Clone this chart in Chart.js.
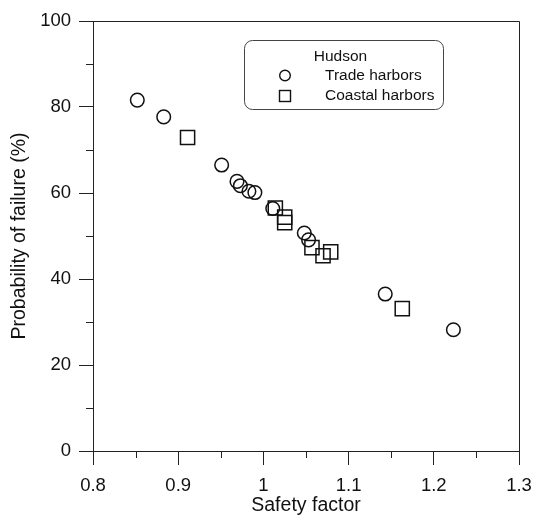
<!DOCTYPE html>
<html>
<head>
<meta charset="utf-8">
<script src="https://cdn.jsdelivr.net/npm/chart.js@4"></script>
<style>
  html, body { margin: 0; padding: 0; background: #fff; }
  #wrap { width: 533px; height: 516px; }
</style>
</head>
<body>
<div id="wrap"><canvas id="c" width="533" height="516"></canvas></div>
<script>
// ---- data ----
const tradeX = [0.852, 0.883, 0.951, 0.969, 0.973, 0.983, 0.990, 1.011, 1.048, 1.053, 1.143, 1.223];
const tradeY = [81.6, 77.7, 66.5, 62.7, 61.7, 60.4, 60.1, 56.4, 50.7, 49.1, 36.5, 28.2];
const coastalX = [0.911, 1.014, 1.025, 1.025, 1.057, 1.070, 1.079, 1.163];
const coastalY = [72.9, 56.5, 54.4, 53.1, 47.3, 45.4, 46.3, 33.1];
const xTicks = [0.8, 0.9, 1.0, 1.1, 1.2, 1.3];
const xMinorTicks = [0.85, 0.95, 1.05, 1.15, 1.25];
const yTicks = [0, 20, 40, 60, 80, 100];
const yMinorTicks = [10, 30, 50, 70, 90];
const legendTitle = 'Hudson';
const seriesNames = ['Trade harbors', 'Coastal harbors'];
const xTitle = 'Safety factor';
const yTitle = 'Probability of failure (%)';

const FONT = "'Liberation Sans', Arial, Helvetica, sans-serif";
const INK = '#111';
const AXIS = '#222';

const toPts = (xs, ys) => xs.map((x, i) => ({ x: x, y: ys[i] }));

const framePlugin = {
  id: 'frame',
  afterDraw(chart) {
    const { ctx, chartArea: a, scales } = chart;
    ctx.save();
    ctx.strokeStyle = AXIS;
    ctx.lineWidth = 1;
    // top and right frame lines
    ctx.beginPath();
    ctx.moveTo(Math.round(a.left) + 0.5, Math.round(a.top) + 0.5);
    ctx.lineTo(Math.round(a.right) + 0.5, Math.round(a.top) + 0.5);
    ctx.lineTo(Math.round(a.right) + 0.5, Math.round(a.bottom) + 0.5);
    ctx.stroke();
    // minor ticks
    ctx.beginPath();
    xMinorTicks.forEach(v => {
      const px = Math.round(scales.x.getPixelForValue(v)) + 0.5;
      ctx.moveTo(px, Math.round(a.bottom));
      ctx.lineTo(px, Math.round(a.bottom) + 7);
    });
    yMinorTicks.forEach(v => {
      const py = Math.round(scales.y.getPixelForValue(v)) + 0.5;
      ctx.moveTo(Math.round(a.left), py);
      ctx.lineTo(Math.round(a.left) - 7, py);
    });
    ctx.stroke();

    // legend box
    const bx = 244.5, by = 40.5, bw = 199, bh = 69, r = 8;
    ctx.beginPath();
    ctx.moveTo(bx + r, by);
    ctx.lineTo(bx + bw - r, by);
    ctx.arcTo(bx + bw, by, bx + bw, by + r, r);
    ctx.lineTo(bx + bw, by + bh - r);
    ctx.arcTo(bx + bw, by + bh, bx + bw - r, by + bh, r);
    ctx.lineTo(bx + r, by + bh);
    ctx.arcTo(bx, by + bh, bx, by + bh - r, r);
    ctx.lineTo(bx, by + r);
    ctx.arcTo(bx, by, bx + r, by, r);
    ctx.closePath();
    ctx.fillStyle = '#fff';
    ctx.fill();
    ctx.strokeStyle = '#444';
    ctx.stroke();

    ctx.fillStyle = INK;
    ctx.font = '15.5px ' + FONT;
    ctx.textBaseline = 'middle';
    ctx.textAlign = 'center';
    ctx.fillText(legendTitle, 340.5, 57);
    ctx.textAlign = 'left';
    ctx.fillText(seriesNames[0], 325, 75.5);
    ctx.fillText(seriesNames[1], 325, 96);

    ctx.strokeStyle = INK;
    ctx.lineWidth = 1.4;
    ctx.beginPath();
    ctx.arc(285, 75.5, 5.3, 0, Math.PI * 2);
    ctx.stroke();
    ctx.strokeRect(279.5, 90.5, 11, 11);
    ctx.restore();
  }
};

new Chart(document.getElementById('c'), {
  type: 'scatter',
  data: {
    datasets: [
      {
        label: seriesNames[0],
        data: toPts(tradeX, tradeY),
        pointStyle: 'circle',
        pointRadius: 6.8,
        pointHoverRadius: 6.8,
        pointBorderWidth: 1.5,
        pointBorderColor: INK,
        pointBackgroundColor: 'rgba(0,0,0,0)'
      },
      {
        label: seriesNames[1],
        data: toPts(coastalX, coastalY),
        pointStyle: 'rect',
        pointRadius: 10,
        pointHoverRadius: 10,
        pointBorderWidth: 1.5,
        pointBorderColor: INK,
        pointBackgroundColor: 'rgba(0,0,0,0)'
      }
    ]
  },
  options: {
    responsive: false,
    animation: false,
    devicePixelRatio: 1,
    layout: { autoPadding: false, padding: { top: 21, right: 14, left: 0, bottom: 0 } },
    plugins: { legend: { display: false }, tooltip: { enabled: false } },
    scales: {
      x: {
        type: 'linear',
        min: 0.8, max: 1.3,
        afterBuildTicks: s => { s.ticks = xTicks.map(v => ({ value: v })); },
        afterFit: s => { s.height = 65; s.paddingLeft = 0; s.paddingRight = 0; },
        ticks: {
          color: INK,
          font: { family: FONT, size: 18.5 },
          padding: 10,
          maxRotation: 0,
          callback: v => String(+Number(v).toFixed(2))
        },
        grid: { drawOnChartArea: false, drawTicks: true, tickLength: 14, color: AXIS, lineWidth: 1 },
        border: { display: true, color: AXIS, width: 1 },
        title: {
          display: true, text: xTitle, color: INK,
          font: { family: FONT, size: 19.5, lineHeight: 1.05 },
          padding: { top: 0, bottom: 0 }
        }
      },
      y: {
        type: 'linear',
        min: 0, max: 100,
        afterBuildTicks: s => { s.ticks = yTicks.map(v => ({ value: v })); },
        afterFit: s => { s.width = 93; s.paddingTop = 0; s.paddingBottom = 0; },
        ticks: {
          color: INK,
          font: { family: FONT, size: 18.5 },
          padding: 8,
          callback: v => String(v)
        },
        grid: { drawOnChartArea: false, drawTicks: true, tickLength: 14, color: AXIS, lineWidth: 1 },
        border: { display: true, color: AXIS, width: 1 },
        title: {
          display: true, text: yTitle, color: INK,
          font: { family: FONT, size: 19.5, lineHeight: 1.2 },
          padding: { top: 8, bottom: 0 }
        }
      }
    }
  },
  plugins: [framePlugin]
});
</script>
</body>
</html>
